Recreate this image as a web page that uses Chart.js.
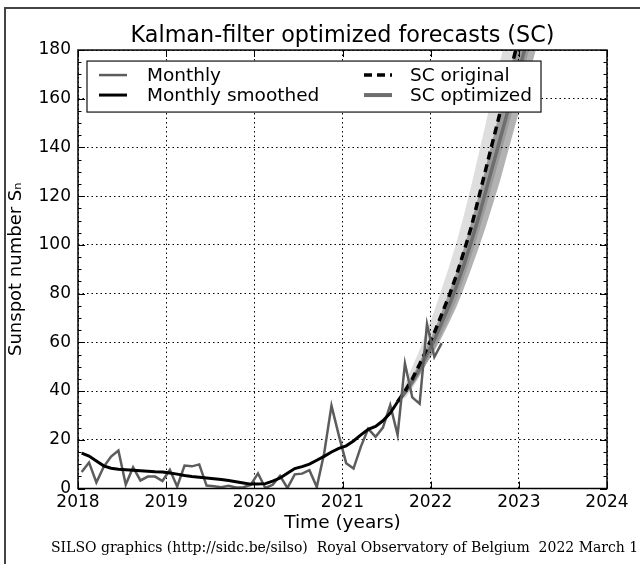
<!DOCTYPE html>
<html lang="en">
<head>
<meta charset="UTF-8">
<title>Kalman-filter optimized forecasts (SC)</title>
<script src="https://cdn.jsdelivr.net/npm/chart.js"></script>
<style>
  body { margin: 0; background: #fff; }
</style>
</head>
<body>
<canvas id="sc" width="640" height="564"></canvas>
<script>
// monthly mean sunspot number, Jan 2018 .. Feb 2022
const monthly = [
  6.8, 10.7, 2.5, 8.9, 13.1, 15.6, 1.6, 8.7, 3.3, 4.9, 4.9, 3.1,
  7.7, 0.8, 9.4, 9.1, 9.9, 1.2, 0.9, 0.5, 1.1, 0.4, 0.5, 1.5,
  6.2, 0.2, 1.5, 5.2, 0.2, 5.8, 6.1, 7.5, 0.6, 14.4, 34.0, 21.8,
  10.4, 8.2, 17.2, 24.5, 21.2, 25.0, 34.3, 22.0, 51.3, 37.4, 34.8, 67.5,
  54.0, 59.7
];
// 13-month smoothed, Jan 2018 .. Aug 2021
const smoothed = [
  14.5, 13.3, 11.3, 9.3, 8.3, 7.9, 7.7, 7.5, 7.3, 7.1, 6.9, 6.8,
  6.4, 5.9, 5.3, 4.9, 4.6, 4.3, 4.0, 3.7, 3.3, 2.8, 2.3, 1.8,
  1.8, 2.0, 3.0, 4.3, 6.3, 8.2, 9.0, 10.0, 11.6, 13.2, 15.0, 16.5,
  17.5, 19.5, 22.0, 24.3, 25.5, 27.8, 31.0, 35.6
];
// forecast dates (decimal years) and curves
const fcTime = [2021.625, 2021.708, 2021.792, 2021.875, 2021.958, 2022.042, 2022.125, 2022.208,
  2022.292, 2022.375, 2022.458, 2022.542, 2022.625, 2022.708, 2022.792, 2022.875, 2022.958,
  2023.042, 2023.125, 2023.208];
const scOriginal  = [35.6, 40, 45, 51, 57.5, 64, 71.5, 79, 87.5, 97, 107, 119, 131, 143, 155, 167, 179, 191, 203, 215];
const scOptimized = [35.6, 39.5, 44, 49, 55, 61, 68, 75, 83, 91.5, 101, 111, 122, 133, 144, 155, 166, 177, 188, 199];
const origUpper = [36, 43, 50, 57, 65, 73, 82, 91, 101, 112, 124, 137, 150, 163, 176, 189, 202, 215, 228, 241];
const origLower = [35.6, 37, 41, 46, 51.5, 57, 63.5, 70, 77.5, 86, 95, 105, 115, 126, 137, 148, 159, 170, 181, 192];
const optUpper  = [35.6, 41, 46, 52, 58.5, 65, 72.5, 80.5, 89, 98.5, 109, 120, 132, 144, 156, 168, 180, 192, 204, 216];
const optLower  = [35.6, 38, 42, 46.5, 51.5, 56.5, 62, 68, 74.5, 82, 90, 98.5, 107.5, 117, 127, 138, 149, 160, 171, 182];

const yearTicks = [2018, 2019, 2020, 2021, 2022, 2023, 2024];

const monthTime = i => 2018 + (i + 0.5) / 12;
const pts = (xs, ys) => ys.map((v, i) => ({ x: xs[i], y: v }));

const FONT = "'DejaVu Sans', sans-serif";

// inward ticks on all four sides + frame, like the matplotlib classic style
const spines = {
  id: 'spines',
  afterDatasetsDraw(chart) {
    const { ctx, chartArea: a, scales: { x, y } } = chart;
    ctx.save();
    ctx.strokeStyle = '#000';
    ctx.lineWidth = 1;
    ctx.beginPath();
    for (let v = 0; v <= 180; v += 5) {
      const py = Math.round(y.getPixelForValue(v)) + 0.5;
      const len = v % 20 === 0 ? 7 : 3.5;
      ctx.moveTo(a.left, py); ctx.lineTo(a.left + len, py);
      ctx.moveTo(a.right, py); ctx.lineTo(a.right - len, py);
    }
    yearTicks.forEach(t => {
      const px = Math.round(x.getPixelForValue(t)) + 0.5;
      ctx.moveTo(px, a.bottom); ctx.lineTo(px, a.bottom - 7);
      ctx.moveTo(px, a.top); ctx.lineTo(px, a.top + 7);
    });
    ctx.stroke();
    ctx.lineWidth = 1.5;
    ctx.strokeRect(a.left, a.top, a.right - a.left, a.bottom - a.top);
    ctx.restore();
  }
};

// two-column legend box in the upper left of the plot
const legendBox = {
  id: 'legendBox',
  afterDatasetsDraw(chart) {
    const { ctx, chartArea: a } = chart;
    const x0 = a.left + 9, y0 = a.top + 11, w = 454, h = 51;
    ctx.save();
    ctx.fillStyle = '#fff';
    ctx.fillRect(x0, y0, w, h);
    ctx.strokeStyle = '#111';
    ctx.lineWidth = 1.2;
    ctx.strokeRect(x0, y0, w, h);
    const items = [
      [0, 0, chart.data.datasets[0]],
      [0, 1, chart.data.datasets[1]],
      [1, 0, chart.data.datasets[2]],
      [1, 1, chart.data.datasets[3]]
    ];
    const colX = [x0 + 12, x0 + 277];
    const textX = [x0 + 60, x0 + 323];
    const rowY = [y0 + 14, y0 + 34];
    ctx.font = '18.5px ' + FONT;
    ctx.textBaseline = 'middle';
    items.forEach(([c, r, ds]) => {
      ctx.strokeStyle = ds.borderColor;
      ctx.lineWidth = ds.legendWidth || ds.borderWidth;
      ctx.setLineDash(ds.borderDash || []);
      ctx.beginPath();
      ctx.moveTo(colX[c], rowY[r]);
      ctx.lineTo(colX[c] + 28, rowY[r]);
      ctx.stroke();
      ctx.setLineDash([]);
      ctx.fillStyle = '#000';
      ctx.fillText(ds.label, textX[c], rowY[r] + 1);
    });
    ctx.restore();
  }
};

// page frame and credit line
const frame = {
  id: 'frame',
  afterDraw(chart) {
    const { ctx } = chart;
    ctx.save();
    ctx.strokeStyle = '#444';
    ctx.lineWidth = 2;
    ctx.beginPath();
    ctx.moveTo(5, 564); ctx.lineTo(5, 8); ctx.lineTo(640, 8);
    ctx.stroke();
    ctx.fillStyle = '#000';
    ctx.font = "14px 'DejaVu Serif', serif";
    ctx.textBaseline = 'middle';
    ctx.fillText('SILSO graphics (http://sidc.be/silso)  Royal Observatory of Belgium  2022 March 1', 51, 548);
    ctx.restore();
  }
};

new Chart(document.getElementById('sc'), {
  type: 'line',
  data: {
    datasets: [
      { label: 'Monthly', data: pts(monthly.map((v, i) => monthTime(i)), monthly),
        borderColor: '#5c5c5c', borderWidth: 2.5, order: 2 },
      { label: 'Monthly smoothed', data: pts(smoothed.map((v, i) => monthTime(i)), smoothed),
        borderColor: '#000', borderWidth: 3, order: 1 },
      { label: 'SC original', data: pts(fcTime, scOriginal),
        borderColor: '#000', borderWidth: 3.5, borderDash: [8, 5], order: 3 },
      { label: 'SC optimized', data: pts(fcTime, scOptimized),
        borderColor: '#6e6e6e', borderWidth: 3.5, legendWidth: 4, order: 4 },
      { label: 'orig upper', data: pts(fcTime, origUpper), borderWidth: 0,
        backgroundColor: 'rgba(0,0,0,0.13)', fill: '+1', order: 6 },
      { label: 'orig lower', data: pts(fcTime, origLower), borderWidth: 0, order: 6 },
      { label: 'opt upper', data: pts(fcTime, optUpper), borderWidth: 0,
        backgroundColor: 'rgba(0,0,0,0.3)', fill: '+1', order: 5 },
      { label: 'opt lower', data: pts(fcTime, optLower), borderWidth: 0, order: 5 }
    ]
  },
  options: {
    responsive: false,
    animation: false,
    events: [],
    elements: { point: { radius: 0 }, line: { tension: 0 } },
    layout: { padding: { left: 0, right: 33, top: 0, bottom: 29.5 } },
    plugins: {
      legend: { display: false },
      tooltip: { enabled: false },
      title: {
        display: true,
        fullSize: false,
        text: 'Kalman-filter optimized forecasts (SC)',
        color: '#000',
        font: { family: FONT, size: 22.3, weight: 'normal' },
        padding: { top: 23, bottom: 0.3 }
      }
    },
    scales: {
      x: {
        type: 'linear', min: 2018, max: 2024,
        afterBuildTicks: s => { s.ticks = yearTicks.map(v => ({ value: v })); },
        afterFit: s => { s.height = 46; },
        ticks: { color: '#000', font: { family: FONT, size: 17 }, padding: 4, maxRotation: 0,
                 callback: v => String(v) },
        grid: { color: '#000', lineWidth: 1, drawTicks: false },
        border: { display: false, dash: [1.5, 3] },
        title: { display: true, text: 'Time (years)', color: '#000',
                 font: { family: FONT, size: 18.5 }, padding: { top: 0, bottom: 0 } }
      },
      y: {
        min: 0, max: 180,
        afterFit: s => { s.width = 78; },
        ticks: { stepSize: 20, color: '#000', font: { family: FONT, size: 17 }, padding: 7 },
        grid: { color: '#000', lineWidth: 1, drawTicks: false },
        border: { display: false, dash: [1.5, 3] },
        title: { display: true, text: 'Sunspot number Sₙ', color: '#000',
                 font: { family: FONT, size: 18 }, padding: { top: 6, bottom: 0 } }
      }
    }
  },
  plugins: [spines, legendBox, frame]
});
</script>
</body>
</html>
